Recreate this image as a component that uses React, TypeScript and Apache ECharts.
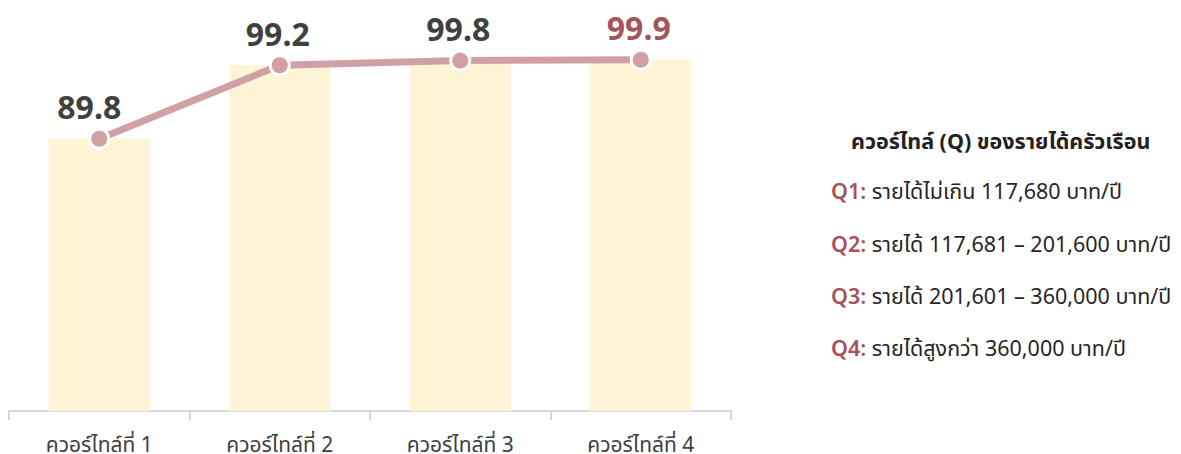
import React, { useEffect, useRef } from "react";
import * as echarts from "echarts";

const categories = ["ควอร์ไทล์ที่ 1", "ควอร์ไทล์ที่ 2", "ควอร์ไทล์ที่ 3", "ควอร์ไทล์ที่ 4"];
const values = [89.8, 99.2, 99.8, 99.9];
const legendTitle = "ควอร์ไทล์ (Q) ของรายได้ครัวเรือน";
const legendKeys = ["Q1:", "Q2:", "Q3:", "Q4:"];
const legendTexts = [
  "รายได้ไม่เกิน 117,680 บาท/ปี",
  "รายได้ 117,681 – 201,600 บาท/ปี",
  "รายได้ 201,601 – 360,000 บาท/ปี",
  "รายได้สูงกว่า 360,000 บาท/ปี",
];

const FONT = "'Noto Sans', 'Noto Sans Thai', sans-serif";

export default function App() {
  const ref = useRef<HTMLDivElement>(null);
  useEffect(() => {
    if (!ref.current) return;
    const chart = echarts.init(ref.current, undefined, { renderer: "svg" });
    const rowY = [190, 243, 295, 347];
    chart.setOption({
      animation: false,
      textStyle: { fontFamily: FONT },
      grid: { left: 9, top: 59, width: 722, height: 356, containLabel: false },
      xAxis: {
        type: "category",
        data: categories,
        axisLine: { lineStyle: { color: "#d9d9d9", width: 2 } },
        axisTick: { show: true, length: 9, lineStyle: { color: "#d9d9d9", width: 2 } },
        axisLabel: { color: "#404040", fontSize: 21, margin: 22, fontFamily: FONT },
      },
      yAxis: {
        type: "value",
        min: 55,
        max: 100,
        show: false,
        splitLine: { show: false },
      },
      series: [
        {
          type: "bar",
          data: values,
          barWidth: 101,
          itemStyle: { color: "#FEF4D6" },
          silent: true,
        },
        {
          type: "line",
          data: values.map((v, i) => ({
            value: v,
            label: {
              offset: [i === 0 ? -10 : -2, 0],
              ...(i === values.length - 1 ? { color: "#A5535C" } : {}),
            },
          })),
          lineStyle: { color: "#D0A0A4", width: 7 },
          symbol: "circle",
          symbolSize: 19,
          itemStyle: { color: "#D0A0A4", borderColor: "#ffffff", borderWidth: 3 },
          label: {
            show: true,
            position: "top",
            distance: 5,
            color: "#404040",
            fontSize: 32,
            fontWeight: "bold",
            fontFamily: FONT,
            formatter: (p: any) => Number(p.value).toFixed(1),
          },
        },
      ],
      graphic: [
        {
          type: "text",
          x: 851,
          y: 140,
          style: {
            text: legendTitle,
            fontSize: 21.5,
            fontWeight: "bold",
            fill: "#222222",
            fontFamily: FONT,
            textVerticalAlign: "middle",
            verticalAlign: "middle",
          },
        },
        ...legendKeys.map((k, i) => ({
          type: "text",
          x: 831,
          y: rowY[i],
          style: {
            text: `{k|${k}} {t|${legendTexts[i]}}`,
            fontSize: 21.5,
            fontFamily: FONT,
            verticalAlign: "middle",
            textVerticalAlign: "middle",
            rich: {
              k: { fill: "#A5535C", color: "#A5535C", fontSize: 21.5, fontWeight: 600, fontFamily: FONT },
              t: { fill: "#262626", color: "#262626", fontSize: 21.5, fontFamily: FONT },
            },
          },
        })),
      ],
    });
    return () => chart.dispose();
  }, []);
  return (
    <div
      ref={ref}
      style={{ position: "absolute", left: 0, top: 0, width: 1181, height: 454 }}
    />
  );
}
